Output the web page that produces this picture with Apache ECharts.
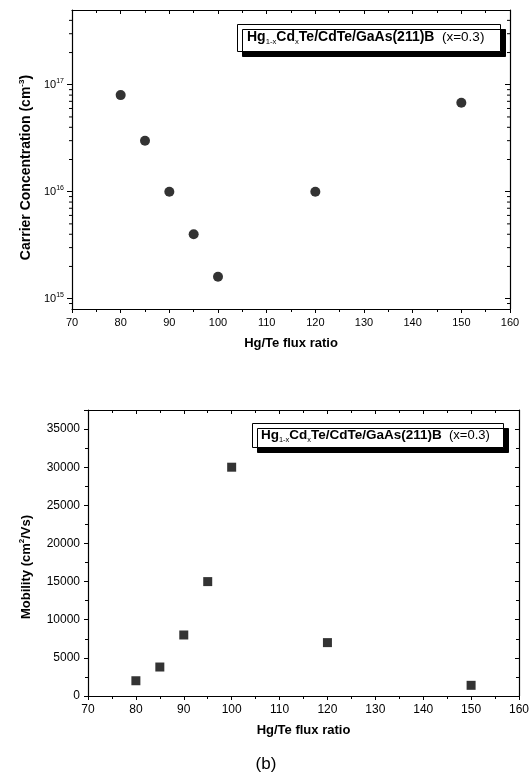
<!DOCTYPE html>
<html>
<head>
<meta charset="utf-8">
<script src="https://cdn.jsdelivr.net/npm/echarts@6/dist/echarts.min.js"></script>
<style>
  html, body { margin: 0; padding: 0; background: #fff; }
  #main { width: 532px; height: 774px; }
</style>
</head>
<body>
<div id="main"></div>
<script>
// Hg/Te flux ratio (x) for both panels
var fluxRatio = [80, 85, 90, 95, 100, 120, 150];
// carrier concentration, cm^-3 (top panel, log scale)
var carrierConc = [8e16, 3e16, 1e16, 4e15, 1.6e15, 1e16, 6.8e16];
// mobility, cm^2/Vs (bottom panel)
var mobility = [2000, 3800, 8000, 15000, 30000, 7000, 1400];
// minor ticks for the log axis (2..9 of each decade)
var logMinorTicks = [9e14,
  2e15, 3e15, 4e15, 5e15, 6e15, 7e15, 8e15, 9e15,
  2e16, 3e16, 4e16, 5e16, 6e16, 7e16, 8e16, 9e16,
  2e17, 3e17, 4e17];

var chart = echarts.init(document.getElementById('main'), null, { renderer: 'canvas' });

var FONT = '"Liberation Sans", Arial, sans-serif';
var black = '#000';

function pairs(xs, ys) {
  var out = [];
  for (var i = 0; i < xs.length; i++) out.push([xs[i], ys[i]]);
  return out;
}

function legendRich(fs) {
  return {
    b: { fontFamily: FONT, fontWeight: 'bold', fontSize: fs, color: black },
    s: { fontFamily: FONT, fontWeight: 'normal', fontSize: fs * 0.55, color: black, padding: [fs * 0.6, 0, 0, 0] },
    n: { fontFamily: FONT, fontWeight: 'normal', fontSize: fs - 0.5, color: black }
  };
}
var legendText = '{b|Hg}{s|1-x}{b|Cd}{s|x}{b|Te/CdTe/GaAs(211)B}{n|  (x=0.3)}';

function xAx(grid, pos, main, fs) {
  return {
    type: 'value', gridIndex: grid, position: pos,
    min: 70, max: 160, interval: 10,
    axisLine: { show: true, onZero: false, lineStyle: { color: black, width: 1.2 } },
    axisTick: { show: true, inside: !main, length: 4, lineStyle: { color: black } },
    minorTick: { show: true, splitNumber: 2, length: 3, lineStyle: { color: black } },
    splitLine: { show: false },
    axisLabel: { show: main, color: black, fontFamily: FONT, fontSize: fs, margin: 8 },
    name: main ? 'Hg/Te flux ratio' : '',
    nameLocation: 'middle', nameGap: 28,
    nameTextStyle: { color: black, fontFamily: FONT, fontWeight: 'bold', fontSize: 13 }
  };
}

var option = {
  backgroundColor: '#fff',
  animation: false,
  title: [
    {
      left: 237, top: 23,
      text: legendText,
      textStyle: { fontWeight: 'normal', rich: legendRich(14) },
      padding: [6, 16, 6, 10],
      backgroundColor: '#fff', borderColor: black, borderWidth: 1,
      shadowColor: black, shadowBlur: 0, shadowOffsetX: 5, shadowOffsetY: 5
    },
    {
      left: 252, top: 423,
      text: legendText,
      textStyle: { fontWeight: 'normal', rich: legendRich(13.5) },
      padding: [5, 14, 5, 9],
      backgroundColor: '#fff', borderColor: black, borderWidth: 1,
      shadowColor: black, shadowBlur: 0, shadowOffsetX: 5, shadowOffsetY: 5
    }
  ],
  graphic: [
    {
      type: 'text', left: 'center', top: 756,
      style: { text: '(b)', font: '17px ' + FONT, fill: black }
    }
  ],
  grid: [
    { left: 72, right: 22, top: 10, height: 299 },
    { left: 88, right: 13, top: 410, height: 286 }
  ],
  xAxis: [
    xAx(0, 'bottom', true, 11),
    xAx(0, 'top', false, 11),
    xAx(1, 'bottom', true, 12),
    xAx(1, 'top', false, 12)
  ],
  yAxis: [
    {
      type: 'log', gridIndex: 0, position: 'left', logBase: 10,
      min: 8e14, max: 5e17,
      axisLine: { show: true, lineStyle: { color: black, width: 1.2 } },
      axisTick: { show: true, length: 5, lineStyle: { color: black } },
      splitLine: { show: false },
      axisLabel: {
        color: black, fontFamily: FONT, fontSize: 11, margin: 8,
        showMinLabel: false, showMaxLabel: false,
        formatter: function (v) {
          var e = Math.round(Math.log10(v));
          if (Math.abs(Math.log10(v) - e) > 1e-6) return '';
          return '10{sup|' + e + '}';
        },
        rich: { sup: { fontFamily: FONT, fontSize: 7, color: black, padding: [0, 0, 7, 0] } }
      },
      name: 'Carrier Concentration (cm{sup|-3})',
      nameLocation: 'middle', nameGap: 35,
      nameTextStyle: {
        color: black, fontFamily: FONT, fontWeight: 'bold', fontSize: 14,
        padding: [0, 16, 0, 0],
        rich: { sup: { fontFamily: FONT, fontWeight: 'bold', fontSize: 8, color: black, padding: [0, 0, 8, 0] } }
      }
    },
    {
      type: 'log', gridIndex: 0, position: 'right', logBase: 10,
      min: 8e14, max: 5e17,
      axisLine: { show: true, lineStyle: { color: black, width: 1.2 } },
      axisTick: { show: true, inside: true, length: 5, lineStyle: { color: black } },
      splitLine: { show: false },
      axisLabel: { show: false }
    },
    {
      type: 'value', gridIndex: 1, position: 'left',
      min: 0, max: 37500, interval: 5000,
      axisLine: { show: true, lineStyle: { color: black, width: 1.2 } },
      axisTick: { show: true, length: 4, lineStyle: { color: black } },
      minorTick: { show: true, splitNumber: 2, length: 3, lineStyle: { color: black } },
      splitLine: { show: false },
      axisLabel: {
        color: black, fontFamily: FONT, fontSize: 12, margin: 8, showMaxLabel: false,
        formatter: function (v) { return String(v); }
      },
      name: 'Mobility (cm{sup|2}/Vs)',
      nameLocation: 'middle', nameGap: 54,
      nameTextStyle: {
        color: black, fontFamily: FONT, fontWeight: 'bold', fontSize: 13,
        padding: [0, 28, 0, 0],
        rich: { sup: { fontFamily: FONT, fontWeight: 'bold', fontSize: 8, color: black, padding: [0, 0, 8, 0] } }
      }
    },
    {
      type: 'value', gridIndex: 1, position: 'right',
      min: 0, max: 37500, interval: 5000,
      axisLine: { show: true, lineStyle: { color: black, width: 1.2 } },
      axisTick: { show: true, inside: true, length: 4, lineStyle: { color: black } },
      minorTick: { show: true, splitNumber: 2, length: 3, lineStyle: { color: black } },
      splitLine: { show: false },
      axisLabel: { show: false }
    }
  ],
  series: [
    {
      name: 'carrier', type: 'scatter', xAxisIndex: 0, yAxisIndex: 0,
      symbol: 'circle', symbolSize: 10,
      itemStyle: { color: black },
      data: pairs(fluxRatio, carrierConc)
    },
    {
      // log-axis minor ticks, left (outside) and right (inside)
      name: 'logMinor', type: 'custom', xAxisIndex: 0, yAxisIndex: 0,
      silent: true, clip: false,
      data: logMinorTicks.map(function (v) { return [70, v]; }),
      renderItem: function (params, api) {
        var p0 = api.coord([70, api.value(1)]);
        var p1 = api.coord([160, api.value(1)]);
        return {
          type: 'group',
          children: [
            { type: 'line', shape: { x1: p0[0] - 3, y1: p0[1], x2: p0[0], y2: p0[1] }, style: { stroke: black, lineWidth: 1 } },
            { type: 'line', shape: { x1: p1[0] - 3, y1: p1[1], x2: p1[0], y2: p1[1] }, style: { stroke: black, lineWidth: 1 } }
          ]
        };
      }
    },
    {
      name: 'mobility', type: 'scatter', xAxisIndex: 2, yAxisIndex: 2,
      symbol: 'rect', symbolSize: 9,
      itemStyle: { color: black },
      data: pairs(fluxRatio, mobility)
    }
  ]
};

chart.setOption(option);
</script>
</body>
</html>
